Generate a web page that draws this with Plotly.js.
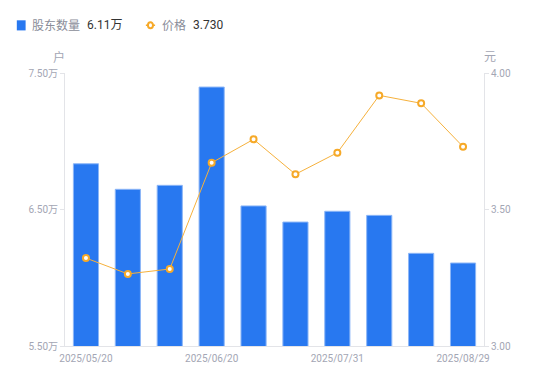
<!DOCTYPE html>
<html><head><meta charset="utf-8">
<script src="https://cdn.plot.ly/plotly-3.0.1.min.js"></script>
<style>html,body{margin:0;padding:0;background:#fff}#c{width:550px;height:381px}</style>
</head><body><div id="c"></div>
<script>
const dates = ['2025/05/20','2025/05/30','2025/06/10','2025/06/20','2025/06/30','2025/07/10','2025/07/31','2025/08/10','2025/08/20','2025/08/29'];
const holders = [6.835, 6.648, 6.677, 7.397, 6.526, 6.408, 6.487, 6.457, 6.179, 6.108];
const price = [3.322, 3.264, 3.282, 3.671, 3.757, 3.629, 3.708, 3.918, 3.889, 3.730];
const xTickLabels = ['2025/05/20','2025/06/20','2025/07/31','2025/08/29'];
const leftTicks = [5.5, 6.5, 7.5];
const leftTickText = ['5.50万','6.50万','7.50万'];
const rightTicks = [3.0, 3.5, 4.0];

const font = 'Roboto, "Noto Sans CJK SC", "Noto Sans", sans-serif';
const tickColor = '#a3a6b4';
const lineColor = '#e3e4e8';

const traces = [
  {type:'bar', x:dates, y:holders, width:0.6, yaxis:'y',
   marker:{color:'#2878f0', line:{color:'#8cb6f7', width:1}}, hoverinfo:'skip'},
  {type:'scatter', mode:'lines+markers', x:dates, y:price, yaxis:'y2',
   line:{color:'#f6b13c', width:1},
   marker:{symbol:'circle', size:6, color:'#ffffff', line:{color:'#f6a928', width:2}}, hoverinfo:'skip'}
];

const layout = {
  width:550, height:381,
  margin:{l:65, r:66, t:73, b:35, pad:0},
  paper_bgcolor:'#fff', plot_bgcolor:'#fff',
  showlegend:false,
  font:{family:font, size:10, color:tickColor},
  xaxis:{type:'category', range:[-0.5, 9.5], automargin:false, showgrid:false, zeroline:false, showline:true, linecolor:lineColor, linewidth:1,
    tickmode:'array', tickvals:xTickLabels, ticktext:xTickLabels, ticks:'', ticklabelstandoff:3, tickfont:{size:10, color:tickColor}},
  yaxis:{range:[5.5,7.5], automargin:false, showgrid:false, zeroline:false, showline:true, linecolor:lineColor, linewidth:1,
    tickmode:'array', tickvals:leftTicks, ticktext:leftTickText, ticks:'outside', ticklen:4, tickcolor:lineColor,
    tickfont:{size:10, color:tickColor}},
  yaxis2:{range:[3,4], automargin:false, overlaying:'y', side:'right', showgrid:false, zeroline:false, showline:true, linecolor:lineColor, linewidth:1,
    tickmode:'array', tickvals:rightTicks, tickformat:'.2f', ticks:'outside', ticklen:4, tickcolor:lineColor,
    tickfont:{size:10, color:tickColor}},
  annotations:[
    {xref:'paper', yref:'paper', x:0, y:1, xshift:-6, yshift:16, text:'户', showarrow:false, xanchor:'center', yanchor:'middle', font:{size:12, color:tickColor}},
    {xref:'paper', yref:'paper', x:1, y:1, xshift:6, yshift:16, text:'元', showarrow:false, xanchor:'center', yanchor:'middle', font:{size:12, color:tickColor}},
    {xref:'paper', yref:'paper', x:0, y:1, xshift:-35, yshift:48, text:'股东数量', showarrow:false, xanchor:'left', yanchor:'middle', font:{size:12, color:'#8a8d99'}},
    {xref:'paper', yref:'paper', x:0, y:1, xshift:20, yshift:48, text:'6.11万', showarrow:false, xanchor:'left', yanchor:'middle', font:{size:12, color:'#333333'}},
    {xref:'paper', yref:'paper', x:0, y:1, xshift:95, yshift:48, text:'价格', showarrow:false, xanchor:'left', yanchor:'middle', font:{size:12, color:'#8a8d99'}},
    {xref:'paper', yref:'paper', x:0, y:1, xshift:126, yshift:48, text:'3.730', showarrow:false, xanchor:'left', yanchor:'middle', font:{size:12, color:'#333333'}}
  ],
  shapes:[
    {type:'rect', xref:'paper', yref:'paper', x0:-0.115, x1:-0.094, y0:1.156, y1:1.193, fillcolor:'#2878f0', line:{width:0}},
    {type:'line', xref:'paper', yref:'paper', x0:0.193, x1:0.215, y0:1.175, y1:1.175, line:{color:'#f6a928', width:1.5}},
    {type:'circle', xref:'paper', yref:'paper', x0:0.198, x1:0.210, y0:1.164, y1:1.186, fillcolor:'#fff', line:{color:'#f6a928', width:2}}
  ]
};
Plotly.newPlot('c', traces, layout, {staticPlot:true, displayModeBar:false});
</script></body></html>
